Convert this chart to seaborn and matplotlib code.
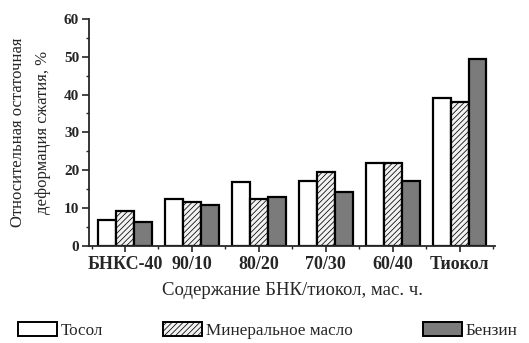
import matplotlib
matplotlib.use("Agg")
import matplotlib.pyplot as plt
import seaborn as sns
import pandas as pd
import numpy as np
from matplotlib.patches import Patch
from matplotlib.ticker import MultipleLocator, FixedLocator

categories = ["БНКС-40", "90/10", "80/20", "70/30", "60/40", "Тиокол"]
series_names = ["Тосол", "Минеральное масло", "Бензин"]
tosol = [6.9, 12.3, 16.8, 17.2, 22.0, 39.0]
mineral = [9.2, 11.5, 12.3, 19.6, 21.9, 38.1]
benzin = [6.2, 10.8, 13.0, 14.3, 17.2, 49.5]

rows = []
for name, vals in zip(series_names, [tosol, mineral, benzin]):
    for c, v in zip(categories, vals):
        rows.append({"cat": c, "series": name, "value": v})
df = pd.DataFrame(rows)

sns.set_style("ticks")
plt.rcParams["font.family"] = ["Liberation Serif", "DejaVu Serif"]
plt.rcParams["hatch.color"] = "#bdbdbd"
plt.rcParams["hatch.linewidth"] = 0.55

fig = plt.figure(figsize=(5.29, 3.43), dpi=100)
ax = fig.add_axes([0.168, 0.283, 0.768, 0.662])

face = {"Тосол": "white", "Минеральное масло": "#f2f2f2", "Бензин": "#7b7b7b"}
hatch = {"Тосол": None, "Минеральное масло": "//////", "Бензин": None}

sns.barplot(data=df, x="cat", y="value", hue="series", order=categories,
            hue_order=series_names, ax=ax, width=0.8, legend=False,
            palette=face, edgecolor="black", linewidth=1.6, saturation=1)

for container, name in zip(ax.containers, series_names):
    for bar in container:
        bar.set_facecolor(face[name])
        if hatch[name]:
            bar.set_hatch(hatch[name])

ax.set_ylim(0, 60)
ax.set_xlim(-0.54, 5.53)
ax.yaxis.set_major_locator(MultipleLocator(10))
ax.yaxis.set_minor_locator(MultipleLocator(5))
ax.xaxis.set_minor_locator(FixedLocator(np.arange(-0.5, 5.6, 1.0)))
for s in ["top", "right"]:
    ax.spines[s].set_visible(False)
for s in ["left", "bottom"]:
    ax.spines[s].set_linewidth(1.3)
ax.tick_params(axis="y", which="major", length=5, width=1.2, labelsize=11, pad=2)
ax.tick_params(axis="y", which="minor", length=2.5, width=1.0)
ax.tick_params(axis="x", which="major", length=4, width=1.2, labelsize=13, pad=3)
ax.tick_params(axis="x", which="minor", length=2.5, width=1.0)
for lab in ax.get_xticklabels() + ax.get_yticklabels():
    lab.set_fontweight("bold")

ax.set_xlabel("Содержание БНК/тиокол, мас. ч.", fontsize=13.5, labelpad=7)
ax.set_ylabel("Относительная остаточная\nдеформация сжатия, %", fontsize=12, labelpad=9,
              linespacing=1.75)

legend_x = [0.034, 0.308, 0.8]
for name, lx in zip(series_names, legend_x):
    h = Patch(facecolor=face[name], edgecolor="black", linewidth=1.4, hatch=hatch[name])
    fig.legend(handles=[h], labels=[name], loc="center left", bbox_to_anchor=(lx, 0.036),
               frameon=False, fontsize=12.3, handlelength=2.3, handleheight=0.85,
               handletextpad=0.2, borderaxespad=0, borderpad=0)

fig.savefig("out.png", dpi=100)
